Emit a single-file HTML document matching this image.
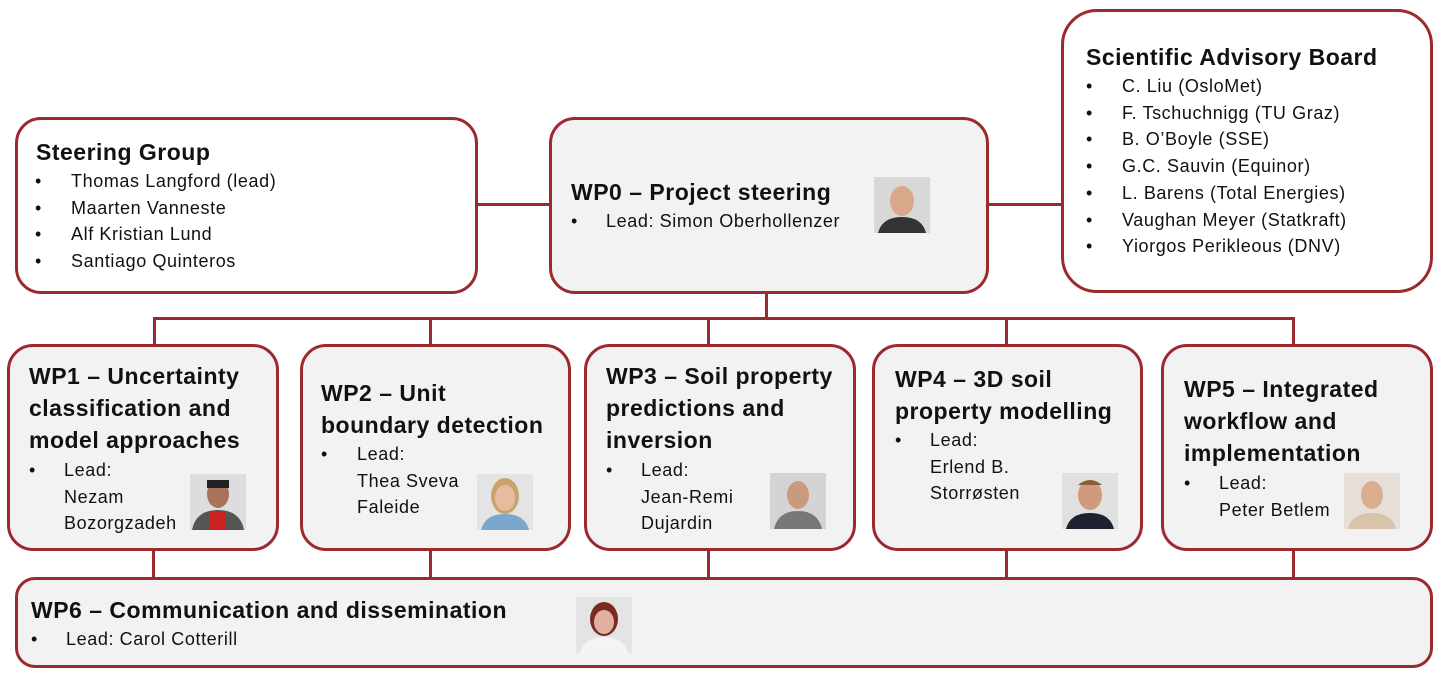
<!DOCTYPE html>
<html><head><meta charset="utf-8"><style>
body{margin:0;width:1440px;height:677px;background:#fff;position:relative;overflow:hidden;font-family:"Liberation Sans",sans-serif;color:#111}
.b{position:absolute;box-sizing:border-box;border:3px solid #9b2a2e;border-radius:26px;background:#f2f2f2}
.w{background:#fff}
.l{position:absolute;background:#9b2a2e}
.t{position:absolute;white-space:nowrap;font-weight:bold;font-size:23px;line-height:32px;letter-spacing:0.5px}
.i{position:absolute;white-space:nowrap;font-size:18px;line-height:26.7px;letter-spacing:0.6px}
.p{position:absolute;width:56px;height:56px;overflow:hidden}
</style></head><body>
<div class="l" style="left:477px;top:203px;width:74px;height:3px"></div>
<div class="l" style="left:987px;top:203px;width:76px;height:3px"></div>
<div class="l" style="left:765px;top:291px;width:3px;height:28px"></div>
<div class="l" style="left:153px;top:317px;width:1142px;height:3px"></div>
<div class="l" style="left:153px;top:317px;width:3px;height:29px"></div>
<div class="l" style="left:429px;top:317px;width:3px;height:29px"></div>
<div class="l" style="left:707px;top:317px;width:3px;height:29px"></div>
<div class="l" style="left:1005px;top:317px;width:3px;height:29px"></div>
<div class="l" style="left:1292px;top:317px;width:3px;height:29px"></div>
<div class="l" style="left:152px;top:549px;width:3px;height:30px"></div>
<div class="l" style="left:429px;top:549px;width:3px;height:30px"></div>
<div class="l" style="left:707px;top:549px;width:3px;height:30px"></div>
<div class="l" style="left:1005px;top:549px;width:3px;height:30px"></div>
<div class="l" style="left:1292px;top:549px;width:3px;height:30px"></div>

<div class="b w" style="left:15px;top:117px;width:463px;height:177px"></div>
<div class="b" style="left:549px;top:117px;width:440px;height:177px"></div>
<div class="b w" style="left:1061px;top:9px;width:372px;height:284px;border-radius:36px"></div>
<div class="b" style="left:7px;top:344px;width:272px;height:207px"></div>
<div class="b" style="left:300px;top:344px;width:271px;height:207px"></div>
<div class="b" style="left:584px;top:344px;width:272px;height:207px"></div>
<div class="b" style="left:872px;top:344px;width:271px;height:207px"></div>
<div class="b" style="left:1161px;top:344px;width:272px;height:207px"></div>
<div class="b" style="left:15px;top:577px;width:1418px;height:91px;border-radius:20px"></div>

<div class="t" style="left:36px;top:136px">Steering Group</div>
<div class="i" style="left:71px;top:168px">Thomas Langford (lead)<br>Maarten Vanneste<br>Alf Kristian Lund<br>Santiago Quinteros</div>
<div class="i" style="left:35px;top:168px">•<br>•<br>•<br>•</div>

<div class="t" style="left:571px;top:176px">WP0 – Project steering</div>
<div class="i" style="left:571px;top:208px">•</div>
<div class="i" style="left:606px;top:208px">Lead: Simon Oberhollenzer</div>

<div class="t" style="left:1086px;top:41px">Scientific Advisory Board</div>
<div class="i" style="left:1086px;top:73px">•<br>•<br>•<br>•<br>•<br>•<br>•</div>
<div class="i" style="left:1122px;top:73px">C. Liu (OsloMet)<br>F. Tschuchnigg (TU Graz)<br>B. O’Boyle (SSE)<br>G.C. Sauvin (Equinor)<br>L. Barens (Total Energies)<br>Vaughan Meyer (Statkraft)<br>Yiorgos Perikleous (DNV)</div>

<div class="t" style="left:29px;top:360px">WP1 – Uncertainty<br>classification and<br>model approaches</div>
<div class="i" style="left:29px;top:457px">•</div>
<div class="i" style="left:64px;top:457px">Lead:<br>Nezam<br>Bozorgzadeh</div>
<div class="t" style="left:321px;top:377px">WP2 – Unit<br>boundary detection</div>
<div class="i" style="left:321px;top:441px">•</div>
<div class="i" style="left:357px;top:441px">Lead:<br>Thea Sveva<br>Faleide</div>
<div class="t" style="left:606px;top:360px">WP3 – Soil property<br>predictions and<br>inversion</div>
<div class="i" style="left:606px;top:457px">•</div>
<div class="i" style="left:641px;top:457px">Lead:<br>Jean-Remi<br>Dujardin</div>
<div class="t" style="left:895px;top:363px">WP4 – 3D soil<br>property modelling</div>
<div class="i" style="left:895px;top:427px">•</div>
<div class="i" style="left:930px;top:427px">Lead:<br>Erlend B.<br>Storrøsten</div>
<div class="t" style="left:1184px;top:373px">WP5 – Integrated<br>workflow and<br>implementation</div>
<div class="i" style="left:1184px;top:470px">•</div>
<div class="i" style="left:1219px;top:470px">Lead:<br>Peter Betlem</div>
<div class="t" style="left:31px;top:594px">WP6 – Communication and dissemination</div>
<div class="i" style="left:31px;top:626px">•</div>
<div class="i" style="left:66px;top:626px">Lead: Carol Cotterill</div>

<svg class="p" style="left:874px;top:177px" viewBox="0 0 56 56"><rect width="56" height="56" fill="#d8d8d8"/><ellipse cx="28" cy="24" rx="12" ry="15" fill="#d9a88a"/><path d="M4 56 Q8 40 28 40 Q48 40 52 56Z" fill="#333"/></svg>
<svg class="p" style="left:190px;top:474px" viewBox="0 0 56 56"><rect width="56" height="56" fill="#ddd"/><ellipse cx="28" cy="20" rx="11" ry="14" fill="#a8735a"/><rect x="17" y="6" width="22" height="8" fill="#222"/><path d="M2 56 Q6 36 28 36 Q50 36 54 56Z" fill="#555"/><rect x="20" y="38" width="16" height="18" fill="#c22"/></svg>
<svg class="p" style="left:477px;top:474px" viewBox="0 0 56 56"><rect width="56" height="56" fill="#e4e4e4"/><ellipse cx="28" cy="22" rx="14" ry="18" fill="#c9a46a"/><ellipse cx="28" cy="24" rx="10" ry="13" fill="#e5bca0"/><path d="M4 56 Q8 40 28 40 Q48 40 52 56Z" fill="#7aa8cc"/></svg>
<svg class="p" style="left:770px;top:473px" viewBox="0 0 56 56"><rect width="56" height="56" fill="#d4d4d4"/><ellipse cx="28" cy="22" rx="11" ry="14" fill="#c99a80"/><path d="M4 56 Q8 38 28 38 Q48 38 52 56Z" fill="#777"/></svg>
<svg class="p" style="left:1062px;top:473px" viewBox="0 0 56 56"><rect width="56" height="56" fill="#e0e0e0"/><ellipse cx="28" cy="22" rx="12" ry="15" fill="#d09a7c"/><path d="M16 12 Q28 2 40 12Z" fill="#8a5a3a"/><path d="M4 56 Q8 40 28 40 Q48 40 52 56Z" fill="#1c2230"/></svg>
<svg class="p" style="left:1344px;top:473px" viewBox="0 0 56 56"><rect width="56" height="56" fill="#e6e0d8"/><ellipse cx="28" cy="22" rx="11" ry="14" fill="#dcae90"/><path d="M4 56 Q8 40 28 40 Q48 40 52 56Z" fill="#d8c4a8"/></svg>
<svg class="p" style="left:576px;top:597px" viewBox="0 0 56 56"><rect width="56" height="56" fill="#e4e4e4"/><ellipse cx="28" cy="22" rx="14" ry="17" fill="#7a2a22"/><ellipse cx="28" cy="25" rx="10" ry="12" fill="#e0b0a0"/><path d="M4 56 Q8 40 28 40 Q48 40 52 56Z" fill="#f4f4f4"/></svg>
</body></html>
